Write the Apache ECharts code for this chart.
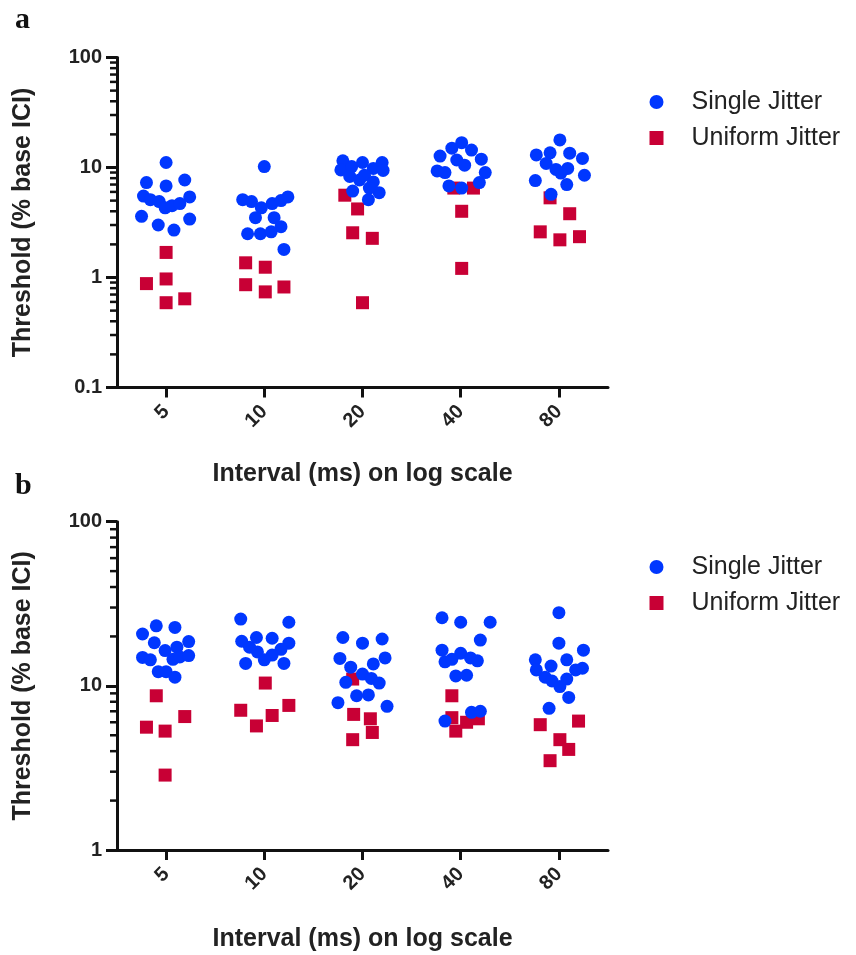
<!DOCTYPE html>
<html>
<head>
<meta charset="utf-8">
<script src="https://cdn.jsdelivr.net/npm/echarts@6/dist/echarts.min.js"></script>
<style>
  html, body { margin: 0; padding: 0; background: #fff; }
  #chart { width: 856px; height: 955px; }
</style>
</head>
<body>
<div id="chart"></div>
<script>
const intervals = ['5', '10', '20', '40', '80'];

// panel a: thresholds per interval group, and horizontal jitter (in category widths)
const singleA = [
  [11.1, 7.3, 6.8, 7.7, 5.5, 5.4, 5.1, 4.9, 4.3, 4.5, 4.7, 3.6, 3.0, 2.7, 3.4],
  [10.2, 5.1, 4.9, 4.3, 4.7, 5.0, 5.4, 3.5, 3.5, 2.9, 2.5, 2.5, 2.6, 1.8],
  [11.5, 9.5, 10.2, 11.1, 9.8, 11.1, 9.4, 8.3, 7.7, 8.5, 7.4, 6.1, 5.1, 5.9, 6.5],
  [16.8, 15.0, 14.4, 12.7, 11.9, 11.7, 10.5, 9.3, 9.0, 9.0, 7.3, 6.8, 6.5],
  [17.8, 13.0, 13.6, 13.5, 12.1, 10.9, 9.6, 9.8, 8.9, 8.5, 7.6, 7.0, 5.7]
];
const singleAdx = [
  [0, -0.20, 0, 0.19, -0.23, 0.24, -0.16, -0.07, -0.01, 0.06, 0.14, -0.25, -0.08, 0.08, 0.24],
  [0, -0.22, -0.13, -0.03, 0.08, 0.17, 0.24, -0.09, 0.10, 0.17, -0.17, -0.04, 0.07, 0.20],
  [-0.20, -0.22, -0.11, 0, 0.11, 0.20, 0.21, -0.13, -0.03, 0.02, 0.11, -0.10, 0.06, 0.17, 0.07],
  [0.01, -0.09, 0.11, -0.21, 0.21, -0.04, 0.04, -0.24, -0.16, 0.25, 0.19, -0.12, 0.01],
  [0.01, -0.23, -0.09, 0.11, 0.24, -0.13, -0.03, 0.09, 0.02, 0.26, -0.24, 0.08, -0.08]
];
const uniformA = [
  [1.69, 0.88, 0.97, 0.59, 0.64],
  [1.36, 1.24, 0.86, 0.74, 0.82],
  [5.6, 4.2, 2.55, 2.27, 0.59],
  [6.5, 6.5, 4.0, 1.21],
  [5.3, 3.8, 2.6, 2.2, 2.35]
];
const uniformAdx = [
  [0, -0.20, 0, 0, 0.19],
  [-0.19, 0.01, -0.19, 0.01, 0.20],
  [-0.18, -0.05, -0.10, 0.10, 0],
  [-0.07, 0.13, 0.01, 0.01],
  [-0.09, 0.11, -0.19, 0.01, 0.21]
];

// panel b
const singleB = [
  [20.7, 23.2, 22.7, 18.3, 18.6, 17.2, 16.4, 14.9, 14.4, 14.5, 15.0, 15.3, 12.2, 12.2, 11.3],
  [25.5, 24.4, 19.7, 19.5, 18.7, 18.2, 17.2, 16.1, 16.7, 15.4, 14.4, 13.7, 13.7],
  [19.7, 18.2, 19.3, 14.7, 14.8, 13.0, 13.6, 11.8, 11.1, 10.4, 10.5, 8.7, 8.8, 7.9, 7.5],
  [26.0, 24.4, 24.4, 19.0, 16.5, 15.8, 14.0, 14.5, 14.8, 14.2, 11.5, 11.6, 6.1, 6.9, 7.0],
  [27.9, 18.2, 16.5, 14.4, 14.4, 13.2, 12.5, 12.5, 12.8, 11.3, 10.7, 11.0, 9.9, 8.5, 7.3]
];
const singleBdx = [
  [-0.24, -0.10, 0.09, -0.12, 0.23, 0.11, -0.01, -0.24, -0.16, 0.07, 0.14, 0.23, -0.08, 0, 0.09],
  [-0.24, 0.25, -0.08, 0.08, -0.23, 0.25, -0.15, -0.07, 0.17, 0.08, 0, -0.19, 0.20],
  [-0.20, 0, 0.20, -0.23, 0.23, -0.12, 0.11, 0, 0.09, 0.17, -0.17, -0.06, 0.06, -0.25, 0.25],
  [-0.19, 0, 0.30, 0.20, -0.19, 0, -0.16, -0.09, 0.10, 0.17, -0.05, 0.06, -0.16, 0.11, 0.20],
  [0, 0, 0.25, -0.24, 0.08, -0.08, -0.23, 0.17, 0.24, -0.14, -0.07, 0.08, 0.01, 0.10, -0.10]
];
const uniformB = [
  [8.7, 5.6, 5.3, 6.5, 2.86],
  [10.4, 7.1, 7.6, 6.6, 5.7],
  [11.0, 6.7, 6.3, 5.2, 4.7],
  [8.7, 6.4, 6.0, 6.3, 5.3],
  [5.8, 6.1, 4.7, 4.1, 3.5]
];
const uniformBdx = [
  [-0.10, -0.20, -0.01, 0.19, -0.01],
  [0.01, -0.24, 0.25, 0.08, -0.08],
  [-0.10, -0.09, 0.08, 0.10, -0.10],
  [-0.09, -0.09, 0.06, 0.18, -0.05],
  [-0.19, 0.20, 0.01, 0.10, -0.09]
];

const minorTicksA = [0.2, 0.3, 0.4, 0.5, 0.6, 0.7, 0.8, 0.9, 2, 3, 4, 5, 6, 7, 8, 9, 20, 30, 40, 50, 60, 70, 80, 90];
const minorTicksB = [2, 3, 4, 5, 6, 7, 8, 9, 20, 30, 40, 50, 60, 70, 80, 90];

const BLUE = '#0037ff';
const RED = '#c80035';
const INK = '#111';
const FONT = '"Liberation Sans", Arial, sans-serif';
const X_MIN = -0.5, X_MAX = 4.5;

function toPoints(vals, dx) {
  const pts = [];
  vals.forEach((group, i) => group.forEach((v, j) => pts.push([i + dx[i][j], v])));
  return pts;
}

function xAxisFor(gridIndex, nameGap) {
  return {
    type: 'value', gridIndex, min: X_MIN, max: X_MAX,
    splitLine: { show: false },
    axisLine: { onZero: false, lineStyle: { color: INK, width: 3 } },
    axisTick: { customValues: [0, 1, 2, 3, 4], length: 10, lineStyle: { color: INK, width: 3 } },
    axisLabel: {
      customValues: [0, 1, 2, 3, 4],
      formatter: (v) => intervals[Math.round(v)],
      rotate: 45, margin: 21, fontSize: 20, fontWeight: 'bold', color: '#222', fontFamily: FONT
    },
    name: 'Interval (ms) on log scale', nameLocation: 'middle', nameGap,
    nameTextStyle: { fontSize: 25, fontWeight: 'bold', color: '#222', fontFamily: FONT }
  };
}

function yAxisFor(gridIndex, min) {
  return {
    type: 'log', logBase: 10, gridIndex, min, max: 100,
    splitLine: { show: false },
    axisLine: { show: true, onZero: false, lineStyle: { color: INK, width: 3 } },
    axisTick: { show: true, length: 11, lineStyle: { color: INK, width: 3 } },
    axisLabel: { margin: 15, fontSize: 20, fontWeight: 'bold', color: '#222', fontFamily: FONT },
    name: 'Threshold (% base ICI)', nameLocation: 'middle', nameGap: 81,
    nameTextStyle: { fontSize: 25, fontWeight: 'bold', color: '#222', fontFamily: FONT }
  };
}

function minorTickSeries(idx, ticks) {
  return {
    type: 'custom', xAxisIndex: idx, yAxisIndex: idx, silent: true, clip: false,
    data: ticks.map(v => [X_MIN, v]),
    renderItem: (params, api) => {
      const p = api.coord([api.value(0), api.value(1)]);
      return { type: 'line', shape: { x1: p[0] - 7, y1: p[1], x2: p[0], y2: p[1] },
               style: { stroke: INK, lineWidth: 2.5 } };
    }
  };
}

function legendFor(top) {
  return {
    orient: 'vertical', left: 644.5, top, padding: 5,
    itemWidth: 14, itemHeight: 14, itemGap: 11, selectedMode: false,
    data: [{ name: 'Single Jitter', icon: 'circle' }, { name: 'Uniform Jitter', icon: 'rect' }],
    textStyle: { fontSize: 25, lineHeight: 25, color: '#222', fontFamily: FONT, padding: [0, 0, 0, 23] }
  };
}

function scatter(idx, name, data, symbol, color, z) {
  return { type: 'scatter', name, xAxisIndex: idx, yAxisIndex: idx, data, symbol,
           symbolSize: 13, z, itemStyle: { color, opacity: 1 } };
}

const chart = echarts.init(document.getElementById('chart'));
chart.setOption({
  animation: false,
  backgroundColor: '#fff',
  title: [
    { text: 'a', left: 10, top: 0, textStyle: { fontSize: 30, fontWeight: 'bold', color: '#111', fontFamily: '"Liberation Serif", serif' } },
    { text: 'b', left: 10, top: 466, textStyle: { fontSize: 30, fontWeight: 'bold', color: '#111', fontFamily: '"Liberation Serif", serif' } }
  ],
  legend: [legendFor(84.5), legendFor(549.5)],
  grid: [
    { left: 117, top: 57.5, width: 491, height: 330 },
    { left: 117, top: 521.7, width: 491, height: 328.3 }
  ],
  xAxis: [xAxisFor(0, 74), xAxisFor(1, 77)],
  yAxis: [yAxisFor(0, 0.1), yAxisFor(1, 1)],
  series: [
    scatter(0, 'Uniform Jitter', toPoints(uniformA, uniformAdx), 'rect', RED, 2),
    scatter(0, 'Single Jitter', toPoints(singleA, singleAdx), 'circle', BLUE, 3),
    scatter(1, 'Uniform Jitter', toPoints(uniformB, uniformBdx), 'rect', RED, 2),
    scatter(1, 'Single Jitter', toPoints(singleB, singleBdx), 'circle', BLUE, 3),
    minorTickSeries(0, minorTicksA),
    minorTickSeries(1, minorTicksB)
  ]
});
</script>
</body>
</html>
